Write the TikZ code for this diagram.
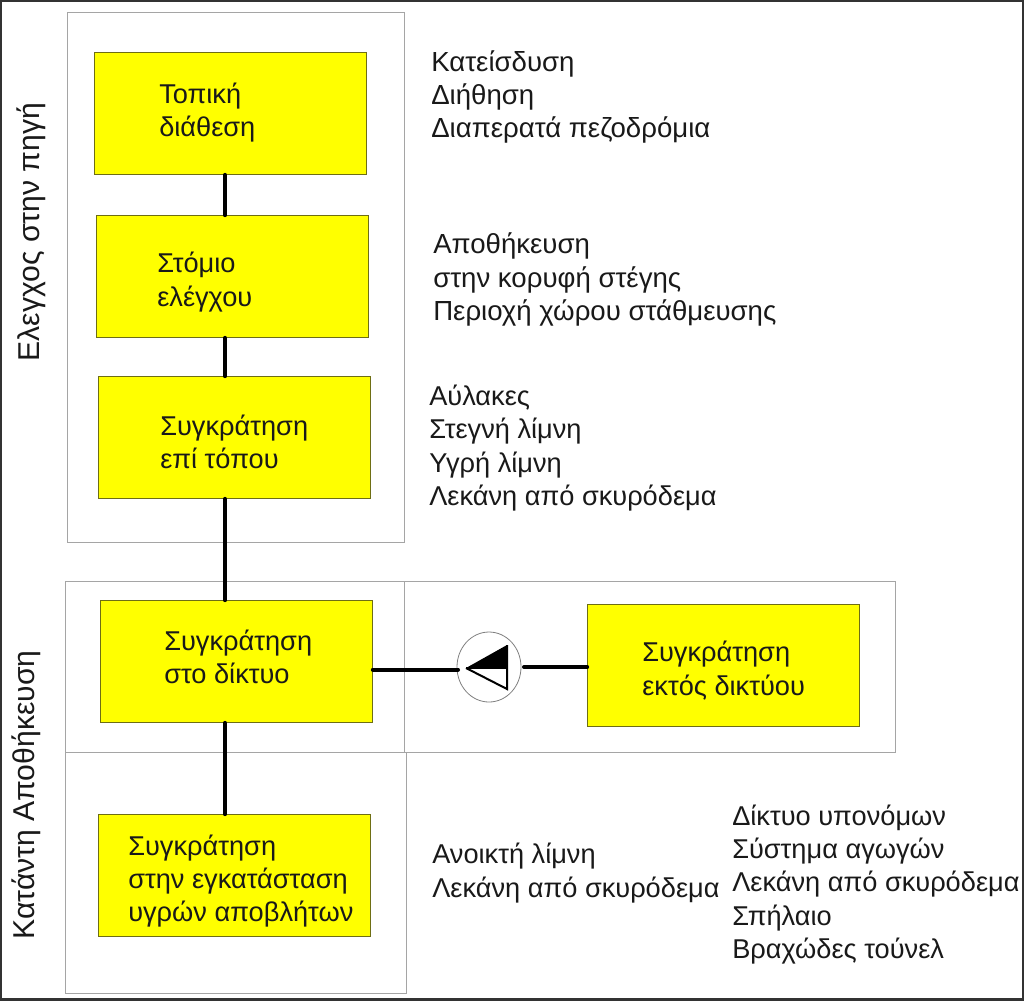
\documentclass[tikz,border=0pt]{standalone}
\usepackage{fontspec}
\setmainfont{Liberation Sans}
\usetikzlibrary{shapes.geometric}
\definecolor{boxyellow}{RGB}{255,255,0}
\definecolor{boxedge}{RGB}{110,110,20}
\definecolor{zonegrey}{RGB}{165,165,165}
\tikzset{
  yb/.style={draw=boxedge,line width=0.5pt,fill=boxyellow,minimum width=204pt,minimum height=91.5pt,inner sep=0pt},
  lbl/.style={anchor=west,align=left,inner sep=0pt,font=\fontsize{20.4pt}{25pt}\selectfont,text=black!90},
  lblb/.style={lbl,font=\fontsize{20.7pt}{25pt}\selectfont},
  side/.style={lbl,anchor=center,rotate=90,font=\fontsize{22.6pt}{25pt}\selectfont},
  zone/.style={draw=zonegrey,line width=0.7pt},
  conn/.style={line width=3pt,line cap=round,black},
}
\begin{document}
\begin{tikzpicture}[x=0.75pt,y=-0.75pt]
\useasboundingbox (0,0) rectangle (1024,1001);
\fill[white] (0,0) rectangle (1024,1001);
\draw[zone] (67,12) rectangle (404,542);
\draw[zone] (65,581) rectangle (404,752);
\draw[zone] (404,581) rectangle (895,752);
\draw[zone] (65,752) rectangle (406,993);
\draw[black!80,line width=2pt] (1,1) rectangle (1023,999.5);
\node[yb] (b1) at (230.5,113.5) {};
\node[yb] (b2) at (232.5,276.5) {};
\node[yb] (b3) at (234.5,437.5) {};
\node[yb] (b4) at (236.5,661.5) {};
\node[yb] (b5) at (234.5,875.5) {};
\node[yb] (b6) at (723.5,665.5) {};
\coordinate (spine) at (225,0);
\draw[conn] (b1.south -| spine) -- (b2.north -| spine);
\draw[conn] (b2.south -| spine) -- (b3.north -| spine);
\draw[conn] (b3.south -| spine) -- (b4.north -| spine);
\draw[conn] (b4.south -| spine) -- (b5.north -| spine);
\node[ellipse,draw=black!50,line width=0.6pt,fill=white,minimum width=48pt,minimum height=52.5pt,inner sep=0pt] (pump) at (489,667) {};
\coordinate (tip) at (466,668);
\coordinate (tr) at (507,645);
\coordinate (mr) at (507,668);
\coordinate (br) at (507,689);
\fill[black] (tip) -- (tr) -- (mr) -- cycle;
\draw[line width=1.5pt,line join=miter] (tip) -- (br) -- (tr);
\draw[line width=1pt] (tip) -- (mr);
\coordinate (bl) at (b4.east |- 0,669.5);
\coordinate (pl) at (458,669.5);
\coordinate (pr) at (524,667);
\coordinate (cr) at (b6.west |- 0,667);
\draw[conn] (bl) -- (pl);
\draw[conn] (pr) -- (cr);
\node[lbl] (t1) at (159,112.5) {Τοπική\\διάθεση};
\node[lbl] (t2) at (157,282) {Στόμιο\\ελέγχου};
\node[lbl] (t3) at (160,442) {Συγκράτηση\\επί τόπου};
\node[lbl] (t4) at (164,657) {Συγκράτηση\\στο δίκτυο};
\node[lbl] (t5) at (128,881) {Συγκράτηση\\στην εγκατάσταση\\υγρών αποβλήτων};
\node[lbl] (t6) at (642,670.5) {Συγκράτηση\\εκτός δικτύου};
\node[lblb] (d1) at (431,97) {Κατείσδυση\\Διήθηση\\Διαπερατά πεζοδρόμια};
\node[lblb] (d2) at (433,279.5) {Αποθήκευση\\στην κορυφή στέγης\\Περιοχή χώρου στάθμευσης};
\node[lbl] (d3) at (429,448) {Αύλακες\\Στεγνή λίμνη\\Υγρή λίμνη\\Λεκάνη από σκυρόδεμα};
\node[lbl] (d4) at (432,873) {Ανοικτή λίμνη\\Λεκάνη από σκυρόδεμα};
\node[lbl] (d5) at (732,884.5) {Δίκτυο υπονόμων\\Σύστημα αγωγών\\Λεκάνη από σκυρόδεμα\\Σπήλαιο\\Βραχώδες τούνελ};
\node[side] (s1) at (31,232) {Ελεγχος στην πηγή};
\node[side] (s2) at (26,795) {Κατάντη Αποθήκευση};
\end{tikzpicture}
\end{document}
